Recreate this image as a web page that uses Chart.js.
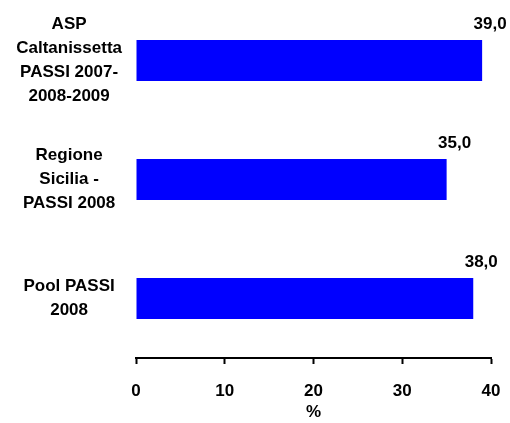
<!DOCTYPE html>
<html>
<head>
<meta charset="utf-8">
<script src="https://cdn.jsdelivr.net/npm/chart.js@4.4.1/dist/chart.umd.min.js"></script>
<style>
  html, body { margin: 0; padding: 0; background: #fff; }
  #wrap { width: 510px; height: 423px; }
</style>
</head>
<body>
<div id="wrap"><canvas id="chart"></canvas></div>
<script>
// data
var categories = [
    ['ASP', 'Caltanissetta', 'PASSI 2007-', '2008-2009'],
    ['Regione', 'Sicilia -', 'PASSI 2008'],
    ['Pool PASSI', '2008']
];
var values = [39.0, 35.0, 38.0];
var xTicks = [0, 10, 20, 30, 40];

var font = { family: '"Liberation Sans", Arial, sans-serif', size: 17, weight: 'bold' };

// prints the value above the end of every bar
var valueLabels = {
    id: 'valueLabels',
    afterDatasetsDraw: function (chart) {
        var ctx = chart.ctx;
        ctx.save();
        ctx.fillStyle = '#000';
        ctx.font = 'bold 17px "Liberation Sans", Arial, sans-serif';
        ctx.textAlign = 'center';
        ctx.textBaseline = 'alphabetic';
        chart.getDatasetMeta(0).data.forEach(function (bar, i) {
            var txt = values[i].toFixed(1).replace('.', ',');
            ctx.fillText(txt, bar.x + 8, bar.y - bar.height / 2 - 11);
        });
        ctx.restore();
    }
};

var ctx = document.getElementById('chart').getContext('2d');
var chart = new Chart(ctx, {
    type: 'bar',
    data: {
        labels: categories,
        datasets: [{
            data: values,
            backgroundColor: '#0000FF',
            borderWidth: 0,
            barPercentage: 0.345,
            categoryPercentage: 1
        }]
    },
    options: {
        indexAxis: 'y',
        responsive: true,
        maintainAspectRatio: false,
        animation: false,
        layout: { padding: { top: 1, right: 19, bottom: 0, left: 0 } },
        plugins: {
            legend: { display: false },
            tooltip: { enabled: false }
        },
        scales: {
            x: {
                min: 0,
                max: 40,
                afterBuildTicks: function (scale) {
                    scale.ticks = xTicks.map(function (v) { return { value: v }; });
                },
                afterFit: function (scale) {
                    scale.height = 65;
                    scale.paddingLeft = 0;
                    scale.paddingRight = 0;
                },
                grid: {
                    drawOnChartArea: false,
                    drawTicks: true,
                    tickLength: 6,
                    tickWidth: 2,
                    tickColor: '#000'
                },
                border: { display: true, color: '#000', width: 2 },
                ticks: { color: '#000', font: font, padding: 17, maxRotation: 0 },
                title: {
                    display: true,
                    text: '%',
                    color: '#000',
                    font: font,
                    padding: { top: 0, bottom: 0 }
                }
            },
            y: {
                afterFit: function (scale) {
                    scale.width = 136;
                    scale.paddingTop = 0;
                    scale.paddingBottom = 0;
                },
                grid: { display: false, drawTicks: false },
                border: { display: false },
                ticks: {
                    color: '#000',
                    font: { family: font.family, size: 17, weight: 'bold', lineHeight: 1.42 },
                    crossAlign: 'center',
                    padding: 14
                }
            }
        }
    },
    plugins: [valueLabels]
});
</script>
</body>
</html>
